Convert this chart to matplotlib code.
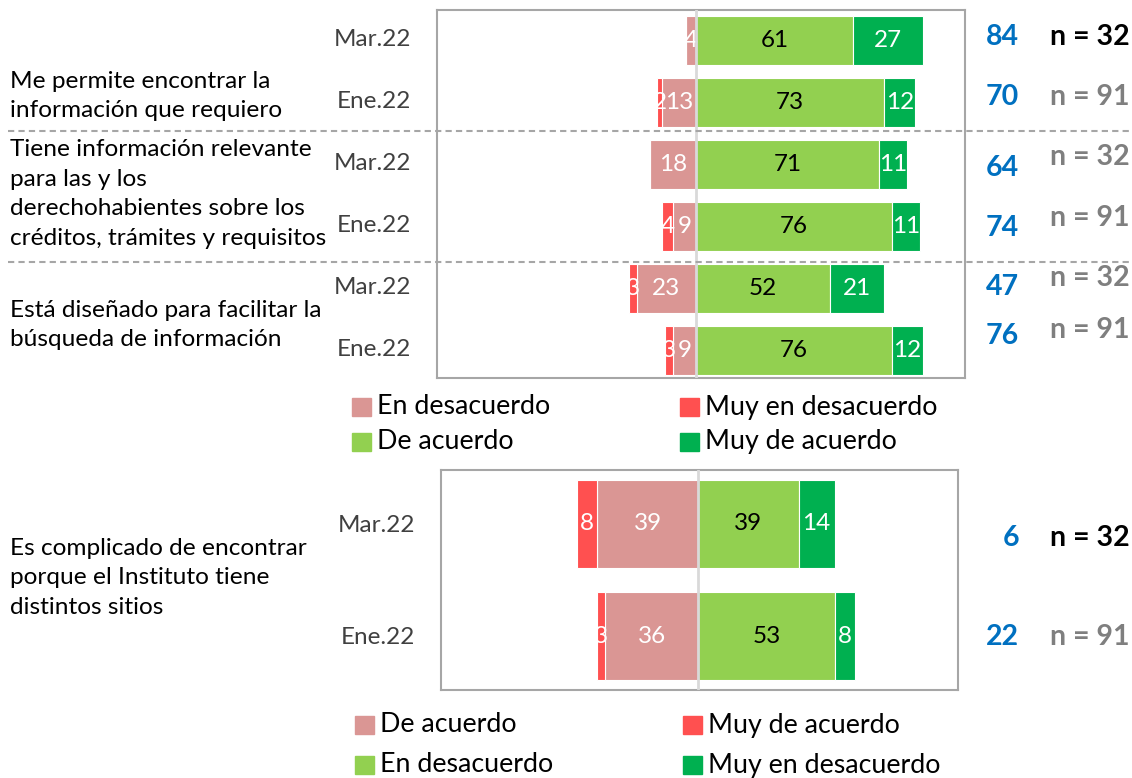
import matplotlib
matplotlib.use("Agg")
import matplotlib.pyplot as plt
from matplotlib.patches import Rectangle
from matplotlib.lines import Line2D
import numpy as np

plt.rcParams['font.family'] = ['Lato', 'DejaVu Sans']

# top panel data
rows_top = ["Mar.22", "Ene.22", "Mar.22", "Ene.22", "Mar.22", "Ene.22"]
muy_desac = [0, 2, 0, 4, 3, 3]
desac = [4, 13, 18, 9, 23, 9]
acuerdo = [61, 73, 71, 76, 52, 76]
muy_acuerdo = [27, 12, 11, 11, 21, 12]
net_top = [84, 70, 64, 74, 47, 76]
n_top = ["n = 32", "n = 91", "n = 32", "n = 91", "n = 32", "n = 91"]
questions_top = ["Me permite encontrar la\ninformación que requiero",
                 "Tiene información relevante\npara las y los\nderechohabientes sobre los\ncréditos, trámites y requisitos",
                 "Está diseñado para facilitar la\nbúsqueda de información"]

# bottom panel data
rows_bot = ["Mar.22", "Ene.22"]
b_left_out = [8, 3]
b_left_in = [39, 36]
b_right_in = [39, 53]
b_right_out = [14, 8]
net_bot = [6, 22]
n_bot = ["n = 32", "n = 91"]
question_bot = "Es complicado de encontrar\nporque el Instituto tiene\ndistintos sitios"

legend_top = ["En desacuerdo", "Muy en desacuerdo", "De acuerdo", "Muy de acuerdo"]
legend_bot = ["De acuerdo", "Muy de acuerdo", "En desacuerdo", "Muy en desacuerdo"]

c_pink = "#DA9694"
c_red = "#FF5050"
c_lgreen = "#92D050"
c_dgreen = "#00B050"
c_blue = "#0070C0"
c_gray = "#7F7F7F"
c_frame = "#A6A6A6"

W, H = 1132, 778
fig = plt.figure(figsize=(W / 100, H / 100), dpi=100)


def fx(px):
    return px / W


def fy(py):
    return 1 - py / H


def draw_panel(ax, lo, li, ri, ro, labels):
    y = np.arange(len(labels))
    h = 0.79
    fs = 17.5
    ax.barh(y, [-v for v in li], height=h, color=c_pink, edgecolor="white", linewidth=0.8)
    ax.barh(y, [-v for v in lo], left=[-v for v in li], height=h, color=c_red,
            edgecolor="white", linewidth=0.8)
    ax.barh(y, ri, height=h, color=c_lgreen, edgecolor="white", linewidth=0.8)
    ax.barh(y, ro, left=ri, height=h, color=c_dgreen, edgecolor="white", linewidth=0.8)
    for i in range(len(labels)):
        if li[i] > 0:
            ax.text(-li[i] / 2, y[i], str(li[i]), color="white", ha="center", va="center", fontsize=fs)
        if lo[i] > 0:
            ax.text(-li[i] - lo[i] / 2, y[i], str(lo[i]), color="white", ha="center", va="center", fontsize=fs)
        ax.text(ri[i] / 2, y[i], str(ri[i]), color="black", ha="center", va="center", fontsize=fs)
        ax.text(ri[i] + ro[i] / 2, y[i], str(ro[i]), color="white", ha="center", va="center", fontsize=fs)
    ax.axvline(0, color="#D9D9D9", lw=2, zorder=3)
    ax.set_xticks([])
    ax.set_yticks([])
    for s in ax.spines.values():
        s.set_color(c_frame)
        s.set_linewidth(1.5)


# top panel
ax1 = fig.add_axes([fx(437), fy(378), fx(965) - fx(437), fy(10) - fy(378)])
draw_panel(ax1, muy_desac, desac, acuerdo, muy_acuerdo, rows_top)
ax1.set_xlim(-100.4, 104.3)
ax1.set_ylim(5.45, -0.5)

# bottom panel
ax2 = fig.add_axes([fx(441), fy(690), fx(958) - fx(441), fy(470) - fy(690)])
draw_panel(ax2, b_left_out, b_left_in, b_right_in, b_right_out, rows_bot)
ax2.set_xlim(-99.6, 100.8)
ax2.set_ylim(1.48, -0.48)

# row labels
row_y_top = [40, 102, 164, 226, 288, 350]
for lab, yy in zip(rows_top, row_y_top):
    fig.text(fx(411), fy(yy), lab, ha="right", va="center", fontsize=17.5, color="#404040")
for lab, yy in zip(rows_bot, [525, 637]):
    fig.text(fx(415), fy(yy), lab, ha="right", va="center", fontsize=17.5, color="#404040")

# questions
for q, yy in zip(questions_top, [96, 194, 325]):
    fig.text(fx(10), fy(yy), q, ha="left", va="center", fontsize=17.6, color="black", linespacing=1.5)
fig.text(fx(10), fy(578), question_bot, ha="left", va="center", fontsize=17.6, color="black", linespacing=1.5)

# net and n labels
net_y = [37, 97, 168, 228, 287, 336]
n_y = [37, 97, 157, 218, 278, 330]
for i in range(len(net_top)):
    fig.text(fx(1019), fy(net_y[i]), str(net_top[i]), ha="right", va="center",
             fontsize=20.5, fontweight="bold", color=c_blue)
    fig.text(fx(1050), fy(n_y[i]), n_top[i], ha="left", va="center", fontsize=20.5,
             fontweight="bold", color="black" if i == 0 else c_gray)
for i, yy in enumerate([538, 637]):
    fig.text(fx(1019), fy(yy), str(net_bot[i]), ha="right", va="center",
             fontsize=20.5, fontweight="bold", color=c_blue)
    fig.text(fx(1050), fy(yy), n_bot[i], ha="left", va="center", fontsize=20.5,
             fontweight="bold", color="black" if i == 0 else c_gray)

# dashed separators
for yy in [131, 262]:
    fig.add_artist(Line2D([fx(8), 1], [fy(yy), fy(yy)], color=c_frame, lw=1.5,
                          linestyle=(0, (3, 2)), zorder=5))


def legend_block(labels, colors, x0, x1, y0, y1):
    pos = [(x0, y0), (x1, y0), (x0, y1), (x1, y1)]
    for lab, col, (px, py) in zip(labels, colors, pos):
        fig.add_artist(Rectangle((fx(px), fy(py + 9)), fx(19), 18 / H, color=col,
                                 transform=fig.transFigure))
        fig.text(fx(px + 25), fy(py), lab, ha="left", va="center", fontsize=19.3)


legend_block(legend_top, [c_pink, c_red, c_lgreen, c_dgreen], 352, 680, 407, 442)
legend_block(legend_bot, [c_pink, c_red, c_lgreen, c_dgreen], 355, 683, 725, 765)

fig.savefig("out.png", dpi=100)
